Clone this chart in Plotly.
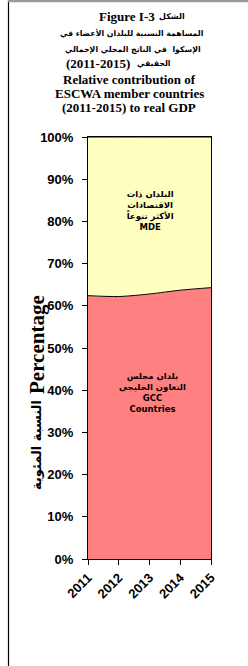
import plotly.graph_objects as go

years = [2011, 2012, 2013, 2014, 2015]
year_labels = ["2011", "2012", "2013", "2014", "2015"]
gcc = [62.4, 62.2, 62.8, 63.7, 64.3]
mde = [37.6, 37.8, 37.2, 36.3, 35.7]
y_ticks = [0, 10, 20, 30, 40, 50, 60, 70, 80, 90, 100]
y_tick_labels = ["0%", "10%", "20%", "30%", "40%", "50%", "60%", "70%", "80%", "90%", "100%"]

title_en_1 = "Figure I-3"
title_ar_1 = "الشكل"
title_ar_2 = "المساهمة النسبية للبلدان الأعضاء في"
title_ar_3 = "الإسكوا  في الناتج المحلي الإجمالي"
title_ar_4 = "الحقيقي"
title_ar_4_years = "(2011-2015)"
title_en_lines = ["Relative contribution of", "ESCWA member countries", "(2011-2015) to real GDP"]
mde_label = "البلدان ذات<br>الاقتصادات<br>الأكثر تنوعاً<br>MDE"
gcc_label = "بلدان مجلس<br>التعاون الخليجي<br>GCC<br>Countries"
y_title_en = "Percentage"
y_title_ar = "النسبة المئوية"

W, H = 248, 666
L, R, T, B = 88, 37, 137, 107
PH = H - T - B
PW = W - L - R

def py(ypx):
    return (H - B - ypx) / PH

def px(xpx):
    return (xpx - L) / PW

SERIF = "Liberation Serif, DejaVu Sans"
AR = "DejaVu Sans"
SANS = "Liberation Sans, Arial"

fig = go.Figure()
fig.add_trace(go.Scatter(
    x=years, y=gcc, stackgroup="one", mode="lines",
    line=dict(color="black", width=1, shape="spline", smoothing=0.8),
    fillcolor="#FF8080", name="GCC", hoverinfo="skip"))
fig.add_trace(go.Scatter(
    x=years, y=mde, stackgroup="one", mode="lines",
    line=dict(color="black", width=1, shape="spline", smoothing=0.8),
    fillcolor="#FFFFC0", name="MDE", hoverinfo="skip"))

fig.update_layout(
    width=W, height=H,
    margin=dict(l=L, r=R, t=T, b=B),
    paper_bgcolor="white", plot_bgcolor="white",
    showlegend=False,
    xaxis=dict(range=[2011, 2015], tickvals=years, ticktext=year_labels,
               tickangle=-45, ticks="outside", ticklen=5, tickcolor="black",
               showline=True, linecolor="black", linewidth=1, mirror=True,
               showgrid=False, zeroline=False,
               tickfont=dict(family=SANS, size=13, color="black", weight="bold")),
    yaxis=dict(range=[0, 100], tickvals=y_ticks, ticktext=y_tick_labels,
               ticks="outside", ticklen=5, tickcolor="black",
               showline=True, linecolor="black", linewidth=1, mirror=True,
               showgrid=False, zeroline=False, ticklabelstandoff=6,
               tickfont=dict(family=SANS, size=13, color="black", weight="bold")),
)

def ann(text, x, y, family, size, xanchor="center", angle=0):
    fig.add_annotation(text=text, xref="paper", yref="paper", x=px(x), y=py(y),
                       xanchor=xanchor, yanchor="middle", showarrow=False, textangle=angle,
                       font=dict(family=family, size=size, color="black", weight="bold"))

# title
ann(title_en_1, 157, 16, SERIF, 13, xanchor="right")
ann(title_ar_1, 157, 16, AR, 8, xanchor="left")
ann(title_ar_2, 132, 33, AR, 7.8)
ann(title_ar_3, 133, 49, AR, 7.8)
ann(title_ar_4_years, 132, 64, SERIF, 13, xanchor="right")
ann(title_ar_4, 135, 64, AR, 7.8, xanchor="left")
for txt, yy in zip(title_en_lines, [79, 93, 107]):
    ann(txt, 129, yy, SERIF, 13)

# area labels
ann(mde_label, 150, 210, AR, 8.5)
ann(gcc_label, 152, 392, AR, 8.5)

# y axis title
ann(y_title_en, 37, 345, SERIF, 21, angle=-90)
ann(y_title_ar, 36, 445, AR, 13, angle=-90)

# outer frame lines of the figure box
fig.add_shape(type="line", xref="paper", yref="paper", x0=px(8.5), x1=px(8.5), y0=py(0), y1=py(H),
              line=dict(color="black", width=1.2))
fig.add_shape(type="line", xref="paper", yref="paper", x0=px(8), x1=px(W), y0=py(1), y1=py(1),
              line=dict(color="#9a9a9a", width=2.5))

fig.write_html("out.html", config={"displayModeBar": False},
               post_script="document.body.style.margin='0';document.body.style.overflow='hidden';")
